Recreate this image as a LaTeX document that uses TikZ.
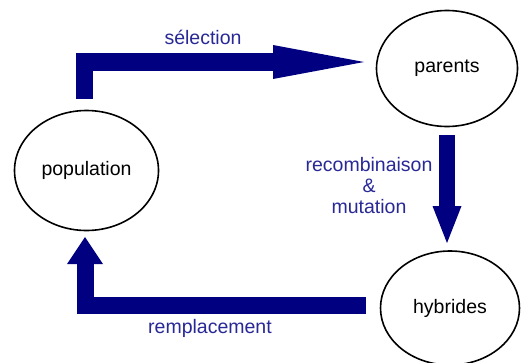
\documentclass[tikz,border=0pt]{standalone}
\usepackage{fontspec}
\setmainfont{Liberation Sans}
\usetikzlibrary{shapes.geometric,arrows.meta}
\definecolor{arrowblue}{RGB}{0,0,128}
\definecolor{labelblue}{RGB}{40,40,150}
\tikzset{
  state/.style={ellipse, draw=black, line width=1.6pt, inner sep=0pt, font=\fontsize{19.5}{22}\selectfont},
  flow/.style={draw=arrowblue, line cap=butt, line join=miter},
  lbl/.style={text=labelblue, font=\fontsize{19.5}{22}\selectfont, align=center, inner sep=0pt}
}
\begin{document}
\begin{tikzpicture}[x=1pt,y=-1pt]
\useasboundingbox[fill=white] (0,0) rectangle (521,362);
\node[state, minimum width=144pt, minimum height=120pt] (pop) at (86.5,170.5) {population};
\node[state, minimum width=141pt, minimum height=116pt] (par) at (447,68.5) {parents};
\node[state, minimum width=139pt, minimum height=114pt] (hyb) at (450,308) {hybrides};
% connector end points
\coordinate (s0) at (84.5,99);
\coordinate (s1) at (84.5,62);
\coordinate (s2) at (364,62);
\coordinate (r0) at (447,135);
\coordinate (r1) at (447,243);
\coordinate (m0) at (366,305);
\coordinate (m1) at (85,305);
\coordinate (m2) at (85,237);
\draw[flow, line width=17.5pt, -{Triangle[length=91pt,width=34pt,line width=0pt]}] (s0) -- (s1) -- (s2);
\draw[flow, line width=16pt, -{Triangle[length=37pt,width=29pt,line width=0pt]}] (r0) -- (r1);
\draw[flow, line width=17pt, -{Triangle[length=27pt,width=36pt,line width=0pt]}] (m0) -- (m1) -- (m2);
\node[lbl] (lsel) at (203,37) {sélection};
\node[lbl] (lrec) at (369,186) {recombinaison\\[-1pt]\&\\[-1pt]mutation};
\node[lbl] (lrem) at (210,328) {remplacement};
\end{tikzpicture}
\end{document}
